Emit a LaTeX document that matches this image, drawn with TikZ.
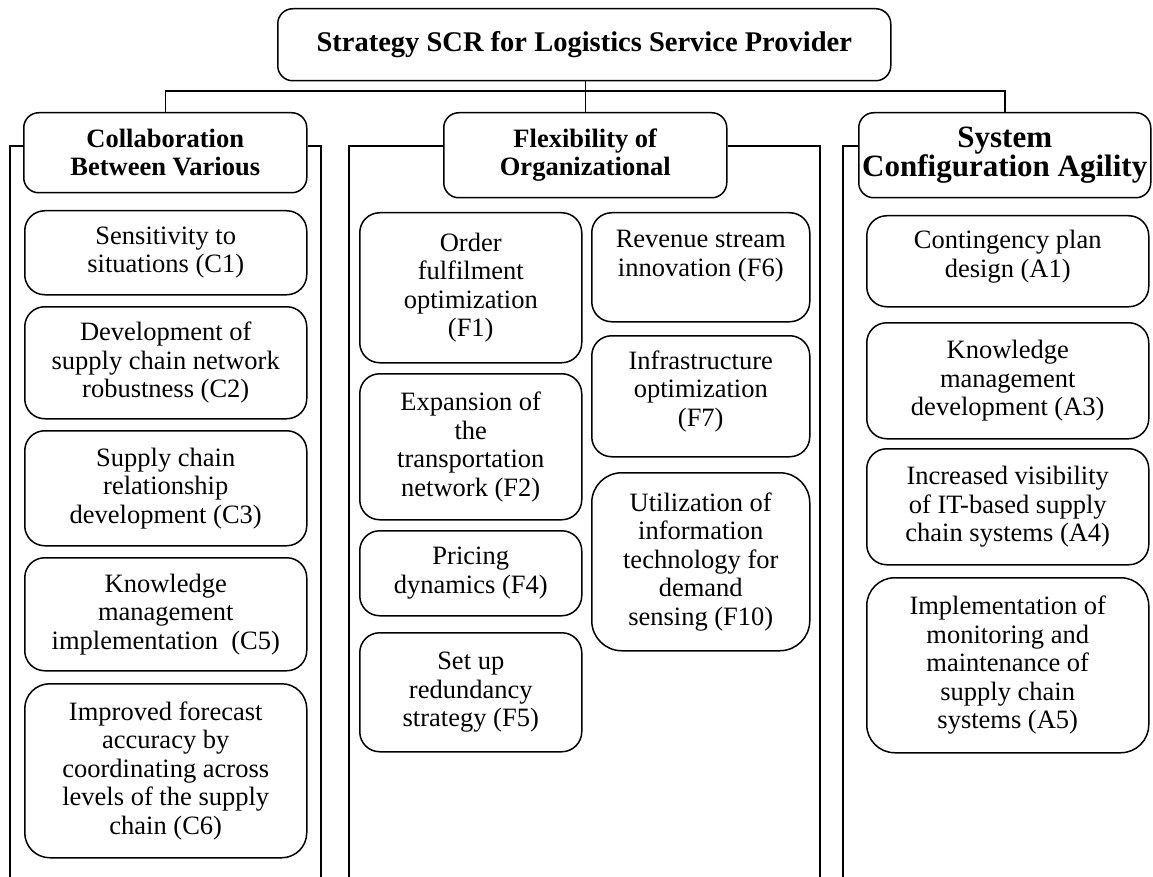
\documentclass[tikz,border=0pt]{standalone}
\usepackage{fontspec}
\setmainfont{Liberation Serif}
\begin{document}
\begin{tikzpicture}[x=1pt,y=-1pt,
  basebox/.style={draw=black,line width=1.5pt,align=center,inner sep=0pt,anchor=north west,
    font=\fontsize{26.5}{28.5}\selectfont},
  headbox/.style={basebox,rounded corners=15pt,font=\fontsize{26.5}{28.5}\selectfont\bfseries},
  itembox/.style={basebox,rounded corners=20pt},
  frameline/.style={line width=1.2pt},
  conn/.style={line width=1.5pt}]
\useasboundingbox (0,0) rectangle (1153,877);

% top box
\node[headbox,font=\fontsize{28.5}{30}\selectfont\bfseries,minimum width=613pt,minimum height=72pt] (top) at (277,8) {Strategy SCR for Logistics Service Provider};

% headers
\node[headbox,minimum width=283pt,minimum height=80pt] (lh) at (23,112) {Collaboration\\Between Various};
\node[headbox,minimum width=283pt,minimum height=85pt] (mh) at (443,112) {Flexibility of\\Organizational};
\node[headbox,font=\fontsize{31}{29.5}\selectfont\bfseries,minimum width=292pt,minimum height=85pt] (rh) at (858,112) {System\\Configuration Agility};

% connectors
\coordinate (bus) at (0,91);
\draw[conn] (mh.north |- top.south) -- (mh.north);
\draw[conn] (lh.north) -- (lh.north |- bus) -- (rh.north |- bus) -- (rh.north);

% frames
\coordinate (ft) at (0,146);
\coordinate (lfl) at (10,877);
\coordinate (lfr) at (321,877);
\coordinate (mfl) at (349,877);
\coordinate (mfr) at (820,877);
\coordinate (rfl) at (843,877);
\draw[frameline] (lfl) -- (lfl |- ft) -- (lh.west |- ft);
\draw[frameline] (lh.east |- ft) -- (lfr |- ft) -- (lfr);
\draw[frameline] (mfl) -- (mfl |- ft) -- (mh.west |- ft);
\draw[frameline] (mh.east |- ft) -- (mfr |- ft) -- (mfr);
\draw[frameline] (rfl) -- (rfl |- ft) -- (rh.west |- ft);

% left column
\node[itembox,minimum width=282pt,minimum height=84pt] (c1) at (24,210) {Sensitivity to\\situations (C1)};
\node[itembox,minimum width=282pt,minimum height=112pt] (c2) at (24,306) {Development of\\supply chain network\\robustness (C2)};
\node[itembox,minimum width=282pt,minimum height=115pt] (c3) at (24,430) {Supply chain\\relationship\\development (C3)};
\node[itembox,minimum width=282pt,minimum height=113pt] (c5) at (24,557) {Knowledge\\management\\implementation\ \ (C5)};
\node[itembox,rounded corners=25pt,minimum width=282pt,minimum height=174pt] (c6) at (24,683) {Improved forecast\\accuracy by\\coordinating across\\levels of the supply\\chain (C6)};

% middle column
\node[itembox,minimum width=222pt,minimum height=150pt] (f1) at (359,212) {Order\\fulfilment\\optimization\\(F1)};
\node[itembox,minimum width=222pt,minimum height=146pt] (f2) at (359,373) {Expansion of\\the\\transportation\\network (F2)};
\node[itembox,minimum width=222pt,minimum height=85pt] (f4) at (359,530) {Pricing\\dynamics (F4)};
\node[itembox,minimum width=222pt,minimum height=119pt] (f5) at (359,632) {Set up\\redundancy\\strategy (F5)};
\node[itembox,minimum width=218pt,minimum height=109pt] (f6) at (591,212) {\begin{tabular}[c]{@{}c@{}}Revenue stream\\innovation (F6)\\[22pt]\end{tabular}};
\node[itembox,minimum width=218pt,minimum height=121pt] (f7) at (591,335) {\begin{tabular}[c]{@{}c@{}}Infrastructure\\optimization\\(F7)\\[8pt]\end{tabular}};
\node[itembox,rounded corners=30pt,minimum width=218pt,minimum height=178pt] (f10) at (591,472) {Utilization of\\information\\technology for\\demand\\sensing (F10)};

% right column
\node[itembox,minimum width=282pt,minimum height=91pt] (a1) at (866,215) {\begin{tabular}[c]{@{}c@{}}Contingency plan\\design (A1)\\[8pt]\end{tabular}};
\node[itembox,minimum width=282pt,minimum height=116pt] (a3) at (866,322) {Knowledge\\management\\development (A3)};
\node[itembox,minimum width=282pt,minimum height=116pt] (a4) at (866,448) {Increased visibility\\of IT-based supply\\chain systems (A4)};
\node[itembox,rounded corners=28pt,minimum width=282pt,minimum height=175pt] (a5) at (866,577) {Implementation of\\monitoring and\\maintenance of\\supply chain\\systems (A5)};
\end{tikzpicture}
\end{document}
